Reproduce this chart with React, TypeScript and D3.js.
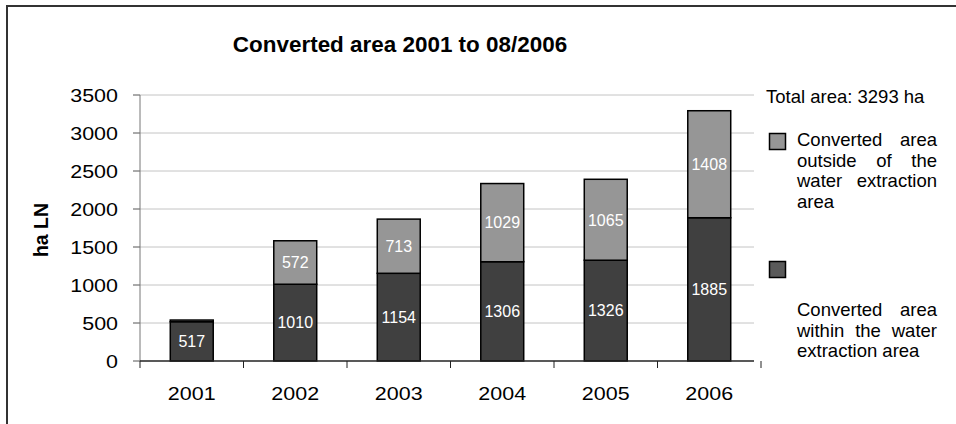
import React from "react";
import * as d3 from "d3";

const years = ["2001", "2002", "2003", "2004", "2005", "2006"];
const withinArea = [517, 1010, 1154, 1306, 1326, 1885];
const outsideArea = [22, 572, 713, 1029, 1065, 1408];
const yTicks = [0, 500, 1000, 1500, 2000, 2500, 3000, 3500];
const titleText = "Converted area 2001 to 08/2006";
const yLabel = "ha LN";
const totalText = "Total area: 3293 ha";
const legendOutside = ["Converted area", "outside of the", "water extraction", "area"];
const legendWithin = ["Converted area", "within the water", "extraction area"];

const W = 956;
const H = 424;
const FONT = "'Liberation Sans', Arial, sans-serif";
const AX_SX = 1.13;

let ctx: CanvasRenderingContext2D | null = null;
function measure(text: string, size: number): number {
  if (!ctx) {
    const c = document.createElement("canvas");
    ctx = c.getContext("2d");
  }
  if (!ctx) return text.length * size * 0.5;
  ctx.font = `${size}px 'Liberation Sans', Arial, sans-serif`;
  return ctx.measureText(text).width;
}

function Justified({ lines, x, y, width, lh, size, justifyLast }: any) {
  return (
    <g>
      {lines.map((line: string, i: number) => {
        const words = line.split(" ");
        const isLast = i === lines.length - 1;
        if (words.length < 2 || (isLast && !justifyLast)) {
          return (
            <text key={i} x={x} y={y + i * lh} fontSize={size} fontFamily={FONT} fill="#000">
              {line}
            </text>
          );
        }
        const widths = words.map((w) => measure(w, size));
        const total = widths.reduce((a, b) => a + b, 0);
        const gap = (width - total) / (words.length - 1);
        let cx = x;
        return (
          <g key={i}>
            {words.map((w, j) => {
              const el = (
                <text key={j} x={cx} y={y + i * lh} fontSize={size} fontFamily={FONT} fill="#000">
                  {w}
                </text>
              );
              cx += widths[j] + gap;
              return el;
            })}
          </g>
        );
      })}
    </g>
  );
}

export default function App() {
  const left = 140;
  const right = 761;
  const top = 95;
  const bottom = 361;

  const x = d3.scaleBand<string>().domain(years).range([left, right]).padding(0);
  const y = d3.scaleLinear().domain([0, 3500]).range([bottom, top]);
  const bw = x.bandwidth() * 0.415;

  const darkFill = "#404040";
  const lightFill = "#969696";

  return (
    <svg
      width={W}
      height={H}
      style={{ position: "absolute", left: 0, top: 0, background: "#fff" }}
    >
      <rect x={0} y={0} width={W} height={H} fill="#fff" />
      <rect x={7} y={6} width={1100} height={600} fill="none" stroke="#333" strokeWidth={2} />

      <text
        transform="translate(400,52) scale(1.02,1)"
        textAnchor="middle"
        fontSize={22}
        fontWeight="bold"
        fontFamily={FONT}
        fill="#000"
      >
        {titleText}
      </text>

      {yTicks.map((t) => (
        <g key={t}>
          {t > 0 && (
            <line x1={left} x2={754} y1={y(t)} y2={y(t)} stroke="#c4c4c4" strokeWidth={1} />
          )}
          <line x1={left - 7} x2={left} y1={y(t)} y2={y(t)} stroke="#555" strokeWidth={1} />
          <text
            transform={`translate(118,${y(t)}) scale(${AX_SX},1)`}
            dy="0.36em"
            textAnchor="end"
            fontSize={19}
            fontFamily={FONT}
            fill="#000"
          >
            {t}
          </text>
        </g>
      ))}
      <line x1={left} x2={left} y1={top} y2={bottom} stroke="#777" strokeWidth={1} />

      <text
        transform={`translate(48,230) rotate(-90)`}
        textAnchor="middle"
        fontSize={19.5}
        fontWeight="bold"
        fontFamily={FONT}
        fill="#000"
      >
        {yLabel}
      </text>

      {years.map((yr, i) => {
        const cx = (x(yr) as number) + x.bandwidth() / 2;
        const w = withinArea[i];
        const o = outsideArea[i];
        return (
          <g key={yr}>
            <rect
              x={cx - bw / 2}
              y={y(w)}
              width={bw}
              height={y(0) - y(w)}
              fill={darkFill}
              stroke="#000"
              strokeWidth={1.5}
            />
            <rect
              x={cx - bw / 2}
              y={y(w + o)}
              width={bw}
              height={y(w) - y(w + o)}
              fill={lightFill}
              stroke="#000"
              strokeWidth={1.5}
            />
            <text
              x={cx}
              y={y(w / 2)}
              dy="0.36em"
              textAnchor="middle"
              fontSize={16}
              fontFamily={FONT}
              fill="#fff"
            >
              {w}
            </text>
            {o > 100 && (
              <text
                x={cx}
                y={y(w + o / 2)}
                dy="0.36em"
                textAnchor="middle"
                fontSize={16}
                fontFamily={FONT}
                fill="#fff"
              >
                {o}
              </text>
            )}
            <text
              transform={`translate(${cx},393) scale(${AX_SX},1)`}
              dy="0.36em"
              textAnchor="middle"
              fontSize={19}
              fontFamily={FONT}
              fill="#000"
            >
              {yr}
            </text>
          </g>
        );
      })}

      <line x1={left} x2={754} y1={bottom} y2={bottom} stroke="#222" strokeWidth={1.5} />
      {d3.range(years.length + 1).map((i) => {
        const xx = left + i * x.bandwidth();
        return <line key={i} x1={xx} x2={xx} y1={bottom} y2={bottom + 7} stroke="#222" strokeWidth={1} />;
      })}

      <text x={766} y={103} fontSize={18.5} fontFamily={FONT} fill="#000">
        {totalText}
      </text>

      <rect x={769.5} y={133.5} width={16} height={16} fill={lightFill} stroke="#000" strokeWidth={1.5} />
      <Justified lines={legendOutside} x={797} y={146} width={140} lh={20.7} size={18.5} justifyLast={false} />

      <rect x={769.5} y={261.5} width={16} height={16} fill="#5a5a5a" stroke="#000" strokeWidth={1.5} />
      <Justified lines={legendWithin} x={797} y={316} width={140} lh={20.7} size={18.5} justifyLast={false} />
    </svg>
  );
}
